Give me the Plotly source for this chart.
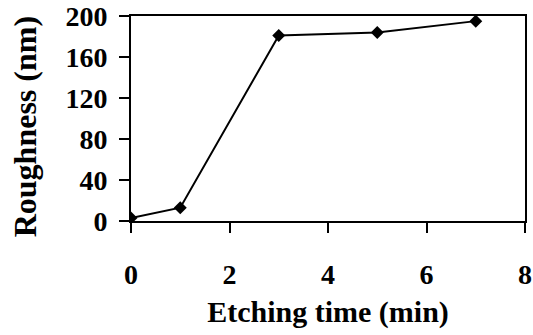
import plotly.graph_objects as go

etching_time = [0, 1, 3, 5, 7]
roughness = [3, 13, 181, 184, 195]
x_ticks = [0, 2, 4, 6, 8]
y_ticks = [0, 40, 80, 120, 160, 200]

font_family = "Liberation Serif, Times New Roman, serif"

fig = go.Figure()
fig.add_trace(go.Scatter(
    x=etching_time, y=roughness, mode="lines+markers",
    line=dict(color="black", width=2),
    marker=dict(symbol="diamond", size=10, color="black"),
    showlegend=False,
))

fig.update_layout(
    width=533, height=335,
    margin=dict(l=131, r=8, t=16, b=114, autoexpand=False),
    paper_bgcolor="white", plot_bgcolor="white",
    font=dict(family=font_family, color="black"),
)
fig.update_xaxes(
    range=[0, 8], tickvals=x_ticks, ticks="outside", ticklen=10, tickwidth=2,
    tickcolor="black", showline=True, linecolor="black", linewidth=2, mirror=True,
    showgrid=False, zeroline=False, automargin=False,
    tickfont=dict(family=font_family, size=28, color="black", weight="bold"),
    ticklabelstandoff=17,
    title=dict(text="<b>Etching time (min)</b>", font=dict(family=font_family, size=30), standoff=12),
)
fig.update_yaxes(
    range=[0, 200], tickvals=y_ticks, ticks="outside", ticklen=10, tickwidth=2,
    tickcolor="black", showline=True, linecolor="black", linewidth=2, mirror=True,
    showgrid=False, zeroline=False, automargin=False,
    tickfont=dict(family=font_family, size=28, color="black", weight="bold"),
    ticklabelstandoff=6,
)
fig.add_annotation(
    text="<b>Roughness (nm)</b>", textangle=-90, showarrow=False,
    xref="paper", yref="paper", x=-0.27, y=0.46, xanchor="center", yanchor="middle",
    font=dict(family=font_family, size=32, color="black"),
)
fig.write_html("out.html")
